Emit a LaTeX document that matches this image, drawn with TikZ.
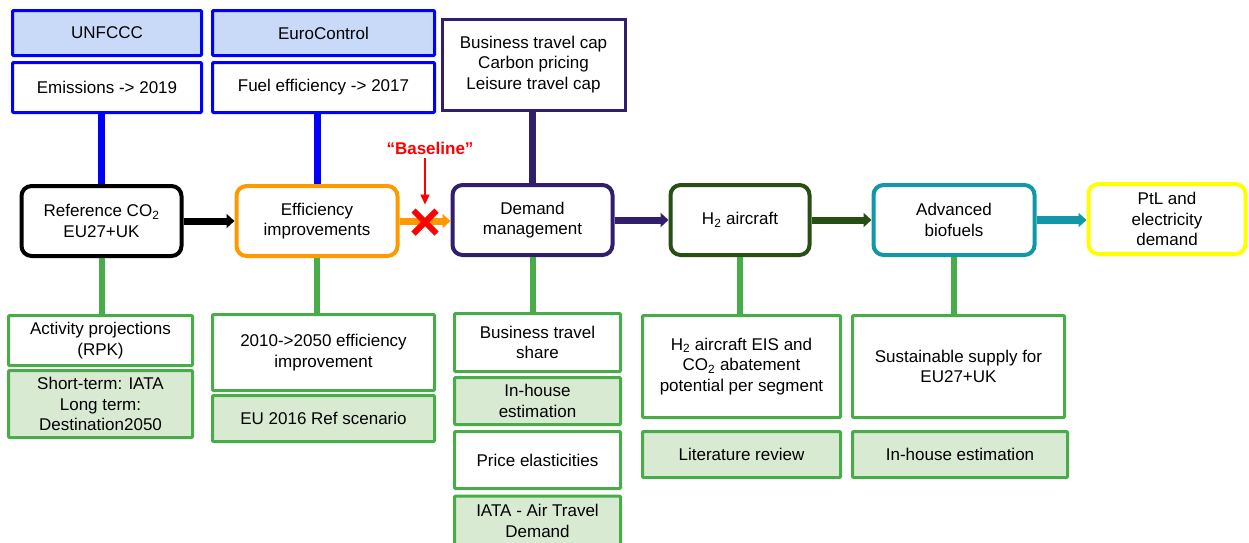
\documentclass[tikz,border=0pt]{standalone}
\usepackage{fontspec}
\setmainfont{Liberation Sans}
\usepackage{tikz}
\usetikzlibrary{arrows.meta,shapes.misc,positioning}
\definecolor{acblue}{RGB}{0,0,255}
\definecolor{aclightblue}{RGB}{201,218,248}
\definecolor{acgreen}{RGB}{72,172,72}
\definecolor{aclightgreen}{RGB}{217,234,211}
\definecolor{acorange}{RGB}{255,153,0}
\definecolor{acpurple}{RGB}{50,30,110}
\definecolor{acdarkgreen}{RGB}{39,78,19}
\definecolor{acteal}{RGB}{16,152,168}
\definecolor{acyellow}{RGB}{255,255,0}
\tikzstyle{stage} = [rectangle, rounded corners=10pt, line width=4pt, fill=white, align=center, minimum height=70pt]
\tikzstyle{inbox} = [rectangle, rounded corners=1pt, line width=3pt, draw=acblue, fill=white, align=center]
\tikzstyle{outbox} = [rectangle, rounded corners=1pt, line width=3pt, draw=acgreen, fill=white, align=center]
\tikzstyle{srcbox} = [outbox, fill=aclightgreen]
\tikzstyle{flow} = [line width=7pt, -{Triangle[length=8pt,width=14pt]}]
\tikzstyle{link} = [line width=7pt]

\begin{document}
\begin{tikzpicture}[x=1pt, y=-1pt, font=\fontsize{17}{20.5}\selectfont]
    \useasboundingbox (0,0) rectangle (1249,542);

    % inputs on top
    \node[inbox, fill=aclightblue, minimum width=189pt, minimum height=45pt] (unfccc) at (107,33) {UNFCCC};
    \node[inbox, minimum width=189pt, minimum height=50pt] (emis) at (107,87.5) {Emissions -> 2019};
    \node[inbox, fill=aclightblue, minimum width=222pt, minimum height=45pt] (euro) at (323.5,33) {EuroControl};
    \node[inbox, minimum width=222pt, minimum height=50pt] (fuel) at (323.5,87.5) {Fuel efficiency -> 2017};
    \node[rectangle, line width=3pt, draw=acpurple, align=center, minimum width=183pt, minimum height=91pt] (policy) at (533.5,64.5) {Business travel cap\\Carbon pricing\\Leisure travel cap};

    % main chain
    \node[stage, draw=black, minimum width=160pt] (ref) at (101.5,221) {Reference CO\textsubscript{2}\\EU27+UK};
    \node[stage, draw=acorange, minimum width=161pt] (eff) at (317,221) {Efficiency\\improvements};
    \node[stage, draw=acpurple, minimum width=160pt] (dem) at (532.5,220) {Demand\\management};
    \node[stage, draw=acdarkgreen, minimum width=139pt] (htwo) at (740,220) {H\textsubscript{2} aircraft};
    \node[stage, draw=acteal, minimum width=161pt] (bio) at (954,220) {Advanced\\biofuels};
    \node[stage, draw=acyellow, minimum width=157pt] (ptl) at (1167,219) {PtL and\\electricity\\demand};

    % outputs and sources below
    \node[outbox, minimum width=184pt, minimum height=50pt] (act) at (100.5,340.5) {Activity projections\\(RPK)};
    \node[srcbox, minimum width=184pt, minimum height=67pt] (actsrc) at (100.5,404) {Short-term: IATA\\Long term:\\Destination2050};
    \node[outbox, minimum width=222pt, minimum height=76pt] (effimp) at (323.5,352.5) {2010->2050 efficiency\\improvement};
    \node[srcbox, minimum width=222pt, minimum height=46pt] (effsrc) at (323.5,418.5) {EU 2016 Ref scenario};
    \node[outbox, minimum width=166pt, minimum height=58pt] (bts) at (537.5,342.5) {Business travel\\share};
    \node[srcbox, minimum width=166pt, minimum height=47pt] (btssrc) at (537.5,401) {In-house\\estimation};
    \node[outbox, minimum width=166pt, minimum height=57pt] (price) at (537.5,460) {Price elasticities};
    \node[srcbox, minimum width=166pt, minimum height=50pt] (pricesrc) at (537.5,521) {IATA - Air Travel\\Demand};
    \node[outbox, minimum width=198pt, minimum height=102pt] (eis) at (741.5,366.5) {H\textsubscript{2} aircraft EIS and\\CO\textsubscript{2} abatement\\potential per segment};
    \node[srcbox, minimum width=198pt, minimum height=46pt] (eissrc) at (741.5,454.5) {Literature review};
    \node[outbox, minimum width=212pt, minimum height=102pt] (supply) at (958.5,366.5) {Sustainable supply for\\EU27+UK};
    \node[srcbox, minimum width=215pt, minimum height=46pt] (supplysrc) at (960,454.5) {In-house estimation};

    % links
    \draw[link, acblue] (ref.north) -- (ref.north |- emis.south);
    \draw[link, acblue] (eff.north) -- (eff.north |- fuel.south);
    \draw[link, acpurple] (dem.north) -- (dem.north |- policy.south);
    \draw[link, acgreen, line width=6pt] (ref.south) -- (ref.south |- act.north);
    \draw[link, acgreen, line width=6pt] (eff.south) -- (eff.south |- effimp.north);
    \draw[link, acgreen, line width=6pt] (dem.south) -- (dem.south |- bts.north);
    \draw[link, acgreen, line width=6pt] (htwo.south) -- (htwo.south |- eis.north);
    \draw[link, acgreen, line width=6pt] (bio.south) -- (bio.south |- supply.north);

    % flow
    \draw[flow, black] (ref) -- (eff);
    \draw[flow, acorange] (eff.east) -- (eff.east -| dem.west);
    \draw[flow, acpurple] (dem) -- (htwo);
    \draw[flow, acdarkgreen] (htwo) -- (bio);
    \draw[flow, acteal, line width=8pt] (bio.east) -- (bio.east -| ptl.west);

    % baseline mark
    \node[cross out, draw=red, line width=6pt, minimum size=17pt, inner sep=0pt] (stop) at (425,222) {};
    \node[text=red, font=\fontsize{17}{20.5}\selectfont\bfseries] (base) at (430,148) {“Baseline”};
    \draw[red, line width=1.5pt, -{Triangle[length=10pt,width=9pt]}, shorten >=6pt] (stop.north |- base.south) -- (stop.north);
\end{tikzpicture}
\end{document}
